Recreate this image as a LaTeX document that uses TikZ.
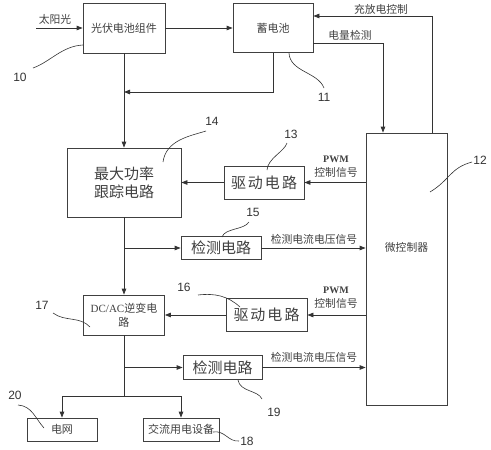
\documentclass[tikz,border=0pt]{standalone}
\usepackage{fontspec}
\setmainfont{Liberation Serif}
\newfontfamily\cjk{Noto Sans CJK SC}
\newfontfamily\numf{Liberation Sans}
\usetikzlibrary{arrows.meta}
\tikzset{
 box/.style={draw=black!75, line width=0.8pt, inner sep=0pt, text=black!75, font=\cjk\fontsize{11}{14}\selectfont, align=center},
 bigbox/.style={box, font=\cjk\fontsize{15}{18}\selectfont},
 lbl/.style={inner sep=0pt, text=black!75, font=\cjk\fontsize{10.8}{12}\selectfont},
 pwm/.style={inner sep=0pt, text=black!75, font=\bfseries\fontsize{10}{12}\selectfont},
 num/.style={inner sep=0pt, text=black!80, font=\numf\fontsize{12}{12}\selectfont},
 ln/.style={draw=black!80, line width=0.8pt},
 arr/.style={ln, -{Triangle[length=6pt,width=4.5pt]}},
 lead/.style={draw=black!80, line width=0.6pt},
}
\begin{document}
\begin{tikzpicture}[x=1pt,y=-1pt]
\useasboundingbox (0,0) rectangle (491,450);
% boxes
\node[box, minimum width=82pt, minimum height=50pt] (pv) at (124,28) {光伏电池组件};
\node[box, minimum width=80pt, minimum height=49pt] (bat) at (273,28) {蓄电池};
\node[box, minimum width=81pt, minimum height=272pt, label={[lbl, yshift=22pt]center:微控制器}] (micro) at (406.5,269) {};
\node[bigbox, minimum width=114pt, minimum height=69pt] (mppt) at (124,182.5) {最大功率\\跟踪电路};
\node[bigbox, minimum width=80pt, minimum height=33pt] (drv1) at (264,182.5) {驱\hspace{2pt}动\hspace{2pt}电\hspace{2pt}路};
\node[bigbox, minimum width=80pt, minimum height=23pt] (det1) at (221,248) {检测电路};
\node[box, minimum width=81pt, minimum height=40pt] (dcac) at (124,315) {{\rmfamily DC/AC}逆变电\\路};
\node[bigbox, minimum width=81pt, minimum height=33pt] (drv2) at (266.5,315) {驱\hspace{2pt}动\hspace{2pt}电\hspace{2pt}路};
\node[bigbox, minimum width=79pt, minimum height=24pt] (det2) at (222.5,367.5) {检测电路};
\node[box, minimum width=70pt, minimum height=23pt] (grid) at (62,429.5) {电网};
\node[box, minimum width=76pt, minimum height=23pt] (ac) at (181,429.5) {交流用电设备};
% helper coordinates
\coordinate (sun) at (36,28);
\coordinate (j1) at (124,92);
\coordinate (c383) at (383,43);
\coordinate (c432) at (432,16);
\coordinate (split) at (124,396);
% connectors
\draw[arr] (sun) -- (pv.west);
\draw[arr] (pv.east) -- (pv.east -| bat.west);
\draw[arr] (pv.south) -- (mppt.north);
\draw[arr] (bat.south) |- (j1);
\draw[arr] (bat.east |- c383) -| (micro.north -| c383);
\draw[arr] (micro.north -| c432) |- (bat.east |- c432);
\draw[arr] (micro.west |- drv1.east) -- (drv1.east);
\draw[arr] (drv1.west) -- (drv1.west -| mppt.east);
\draw[arr] (mppt.south) -- (dcac.north);
\draw[arr] (mppt.south |- det1.west) -- (det1.west);
\draw[arr] (det1.east) -- (det1.east -| micro.west);
\draw[arr] (micro.west |- drv2.east) -- (drv2.east);
\draw[arr] (drv2.west) -- (drv2.west -| dcac.east);
\draw[arr] (dcac.south |- det2.west) -- (det2.west);
\draw[arr] (det2.east) -- (det2.east -| micro.west);
\draw[ln] (dcac.south) -- (split);
\draw[arr] (split) -| (grid.north);
\draw[arr] (split) -| (ac.north);
% connector labels
\node[lbl] (tsun) at (55,19) {太阳光};
\node[lbl] (tcd) at (381,9) {充放电控制};
\node[lbl] (tdl) at (350,35) {电量检测};
\node[pwm] (p1) at (336,159) {PWM};
\node[lbl] (k1) at (336,172.5) {控制信号};
\node[lbl] (s1) at (314,239.5) {检测电流电压信号};
\node[pwm] (p2) at (336,290) {PWM};
\node[lbl] (k2) at (336,303.5) {控制信号};
\node[lbl] (s2) at (314,357) {检测电流电压信号};
% reference numbers
\node[num] (n10) at (20,77) {10};
\node[num] (n11) at (324,97) {11};
\node[num] (n12) at (480,160) {12};
\node[num] (n13) at (291,134) {13};
\node[num] (n14) at (212,121) {14};
\node[num] (n15) at (253,212) {15};
\node[num] (n16) at (184,287) {16};
\node[num] (n17) at (42,305) {17};
\node[num] (n18) at (247,441) {18};
\node[num] (n19) at (274,412) {19};
\node[num] (n20) at (15,395) {20};
% leader lines
\draw[lead] (33,68) .. controls (50,62) and (62,46) .. (83,45);
\draw[lead] (289,53) .. controls (290,72) and (318,72) .. (324,88);
\draw[lead] (430,192) .. controls (450,180) and (450,168) .. (472,162);
\draw[lead] (267,170) .. controls (268,158) and (284,152) .. (287,143);
\draw[lead] (163,162) .. controls (166,140) and (190,136) .. (206,131);
\draw[lead] (222,237) .. controls (225,228) and (244,230) .. (249,222);
\draw[lead] (198,295) .. controls (215,293) and (228,296) .. (240,307);
\draw[lead] (53,313) .. controls (65,322) and (80,316) .. (90,327);
\draw[lead] (213,432) .. controls (225,430) and (228,442) .. (239,441);
\draw[lead] (238,380) .. controls (240,392) and (258,390) .. (262,399);
\draw[lead] (18,405) .. controls (32,406) and (35,418) .. (44,428);
\end{tikzpicture}
\end{document}
